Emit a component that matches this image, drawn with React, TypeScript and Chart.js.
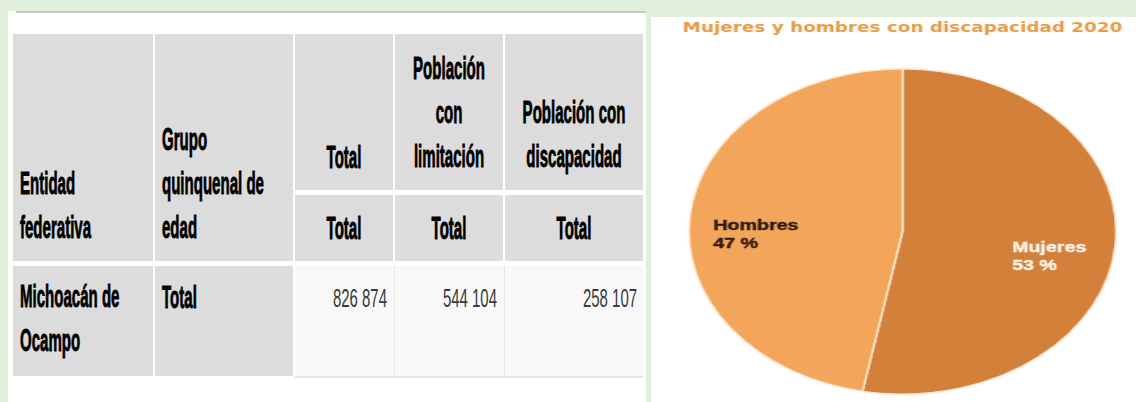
import React, { useEffect, useRef } from "react";
import { Chart, registerables } from "chart.js";

Chart.register(...registerables);

// ---------- data ----------
const pieLabels = ["Mujeres", "Hombres"];
const pieValues = [53, 47];
const pieColors = ["#d2803a", "#f4a55c"];
const pieLabelColors = ["#fdf5ec", "#2a1a0c"];
const chartTitle = "Mujeres y hombres con discapacidad 2020";

const headEntity = ["Entidad", "federativa"];
const headGroup = ["Grupo", "quinquenal de", "edad"];
const headCols = [["Total"], ["Población", "con", "limitación"], ["Población con", "discapacidad"]];
const subHead = ["Total", "Total", "Total"];
const rowEntity = ["Michoacán de", "Ocampo"];
const rowGroup = ["Total"];
const rowValues = ["826 874", "544 104", "258 107"];

// ---------- layout ----------
const COLS: [number, number][] = [
  [13, 153],
  [155, 293],
  [295, 393],
  [395, 503],
  [505, 643],
];
const HEAD_SX = 0.47;
const VAL_SX = 0.575;
const FONT = '"Liberation Sans", Arial, sans-serif';

function TextBlock(props: {
  x0: number;
  x1: number;
  top: number;
  lines: string[];
  align: "left" | "center" | "right";
  size: number;
  weight: number | string;
  color: string;
  pad: number;
  sx: number;
  stroke?: number;
}) {
  const { x0, x1, top, lines, align, size, weight, color, pad, sx, stroke } = props;
  const w = (x1 - x0) / sx;
  return (
    <div
      style={{
        position: "absolute",
        left: x0,
        top,
        width: w,
        transform: `scaleX(${sx})`,
        transformOrigin: "0 0",
        textAlign: align,
        fontFamily: FONT,
        fontSize: size,
        fontWeight: weight as any,
        lineHeight: "44px",
        color,
        paddingLeft: align === "left" ? pad / sx : 0,
        paddingRight: align === "right" ? pad / sx : 0,
        boxSizing: "border-box",
        whiteSpace: "nowrap",
        WebkitTextStroke: stroke ? `${stroke}px ${color}` : undefined,
      } as any}
    >
      {lines.map((l, i) => (
        <div key={i}>{l}</div>
      ))}
    </div>
  );
}

function Box(props: { x0: number; x1: number; y0: number; y1: number; bg: string }) {
  const { x0, x1, y0, y1, bg } = props;
  return (
    <div
      style={{
        position: "absolute",
        left: x0,
        top: y0,
        width: x1 - x0,
        height: y1 - y0,
        background: bg,
      }}
    />
  );
}

const sliceLabels = {
  id: "sliceLabels",
  afterDatasetsDraw(chart: any) {
    const meta = chart.getDatasetMeta(0);
    const ctx = chart.ctx;
    ctx.save();
    ctx.font = 'bold 15px "Liberation Sans", Arial, sans-serif';
    ctx.textBaseline = "alphabetic";
    ctx.textAlign = "left";
    meta.data.forEach((arc: any, i: number) => {
      const { x, y, startAngle, endAngle, outerRadius } = arc.getProps(
        ["x", "y", "startAngle", "endAngle", "outerRadius"],
        true
      );
      const mid = (startAngle + endAngle) / 2;
      const cx = x + Math.cos(mid) * outerRadius * 0.69;
      const cy = y + Math.sin(mid) * outerRadius * 0.69 + 12.5;
      const l1 = pieLabels[i];
      const l2 = `${pieValues[i]} %`;
      const w = Math.max(ctx.measureText(l1).width, ctx.measureText(l2).width);
      ctx.fillStyle = pieLabelColors[i];
      ctx.strokeStyle = pieLabelColors[i];
      ctx.lineWidth = 0.4;
      ctx.fillText(l1, cx - w / 2, cy - 3);
      ctx.strokeText(l1, cx - w / 2, cy - 3);
      ctx.fillText(l2, cx - w / 2, cy + 15);
      ctx.strokeText(l2, cx - w / 2, cy + 15);
    });
    ctx.restore();
  },
};

function PieChart() {
  const ref = useRef<HTMLCanvasElement | null>(null);
  useEffect(() => {
    if (!ref.current) return;
    const chart = new Chart(ref.current, {
      type: "pie",
      data: {
        labels: pieLabels,
        datasets: [
          {
            data: pieValues,
            backgroundColor: pieColors,
            borderColor: "#fde8cf",
            borderWidth: 1.5,
          },
        ],
      },
      options: {
        responsive: false,
        animation: false,
        layout: { padding: { left: 13.4, right: 0, top: 0, bottom: 7 } },
        plugins: {
          legend: { display: false },
          tooltip: { enabled: false },
          title: {
            display: true,
            text: chartTitle,
            color: "#e89a42",
            font: {
              family: '"DejaVu Sans", Verdana, sans-serif',
              size: 14,
              weight: "bold",
              lineHeight: 1.2,
            },
            padding: { top: 3, bottom: 31.2 },
          },
        },
      },
      plugins: [sliceLabels],
    } as any);
    return () => chart.destroy();
  }, []);
  return (
    <div
      style={{
        position: "absolute",
        left: 651,
        top: 17,
        width: 370,
        height: 385,
        transform: "scaleX(1.312)",
        transformOrigin: "0 0",
      }}
    >
      <canvas ref={ref} width={370} height={385} style={{ display: "block", width: 370, height: 385 }} />
    </div>
  );
}

export default function App() {
  const gray = "#dcdcdc";
  const light = "#f8f8f8";
  const st = 0.9;
  return (
    <div
      style={{
        position: "absolute",
        left: 0,
        top: 0,
        width: 1136,
        height: 402,
        background: "#e2efda",
        overflow: "hidden",
      }}
    >
      {/* left panel */}
      <Box x0={8} x1={646} y0={11} y1={402} bg="#ffffff" />
      <Box x0={16} x1={646} y0={11} y1={13} bg="#c9c9c9" />

      {/* header cells */}
      <Box x0={COLS[0][0]} x1={COLS[0][1]} y0={34} y1={261} bg={gray} />
      <Box x0={COLS[1][0]} x1={COLS[1][1]} y0={34} y1={261} bg={gray} />
      {[2, 3, 4].map((c) => (
        <Box key={"h1" + c} x0={COLS[c][0]} x1={COLS[c][1]} y0={34} y1={190} bg={gray} />
      ))}
      {[2, 3, 4].map((c) => (
        <Box key={"h2" + c} x0={COLS[c][0]} x1={COLS[c][1]} y0={195} y1={261} bg={gray} />
      ))}

      {/* data row */}
      <Box x0={COLS[0][0]} x1={COLS[0][1]} y0={266} y1={376} bg={gray} />
      <Box x0={COLS[1][0]} x1={COLS[1][1]} y0={266} y1={376} bg={gray} />
      <Box x0={COLS[2][0]} x1={COLS[4][1]} y0={266} y1={378} bg="#e4e4e4" />
      {[2, 3, 4].map((c) => (
        <Box key={"d" + c} x0={COLS[c][0]} x1={COLS[c][1] + (c === 4 ? 0 : 1)} y0={266} y1={376} bg={light} />
      ))}

      {/* header texts */}
      <TextBlock x0={COLS[0][0]} x1={COLS[0][1]} top={160.9} lines={headEntity} align="left" size={32} weight="bold" color="#000" pad={7} sx={HEAD_SX} stroke={st} />
      <TextBlock x0={COLS[1][0]} x1={COLS[1][1]} top={116.9} lines={headGroup} align="left" size={32} weight="bold" color="#000" pad={7} sx={HEAD_SX} stroke={st} />
      <TextBlock x0={COLS[2][0]} x1={COLS[2][1]} top={134.9} lines={headCols[0]} align="center" size={32} weight="bold" color="#000" pad={0} sx={HEAD_SX} stroke={st} />
      <TextBlock x0={COLS[3][0]} x1={COLS[3][1]} top={45.9} lines={headCols[1]} align="center" size={32} weight="bold" color="#000" pad={0} sx={HEAD_SX} stroke={st} />
      <TextBlock x0={COLS[4][0]} x1={COLS[4][1]} top={89.9} lines={headCols[2]} align="center" size={32} weight="bold" color="#000" pad={0} sx={HEAD_SX} stroke={st} />
      {[2, 3, 4].map((c, i) => (
        <TextBlock key={"st" + c} x0={COLS[c][0]} x1={COLS[c][1]} top={205.9} lines={[subHead[i]]} align="center" size={32} weight="bold" color="#000" pad={0} sx={HEAD_SX} stroke={st} />
      ))}

      {/* data texts */}
      <TextBlock x0={COLS[0][0]} x1={COLS[0][1]} top={273.9} lines={rowEntity} align="left" size={32} weight="bold" color="#000" pad={7} sx={HEAD_SX} stroke={st} />
      <TextBlock x0={COLS[1][0]} x1={COLS[1][1]} top={274.5} lines={rowGroup} align="left" size={32} weight="bold" color="#000" pad={7} sx={HEAD_SX} stroke={st} />
      {[2, 3, 4].map((c, i) => (
        <TextBlock key={"v" + c} x0={COLS[c][0]} x1={COLS[c][1]} top={276} lines={[rowValues[i]]} align="right" size={26} weight="normal" color="#3a3a3a" pad={6} sx={VAL_SX} />
      ))}

      {/* right panel */}
      <Box x0={651} x1={1136} y0={17} y1={402} bg="#ffffff" />
      <PieChart />
    </div>
  );
}
